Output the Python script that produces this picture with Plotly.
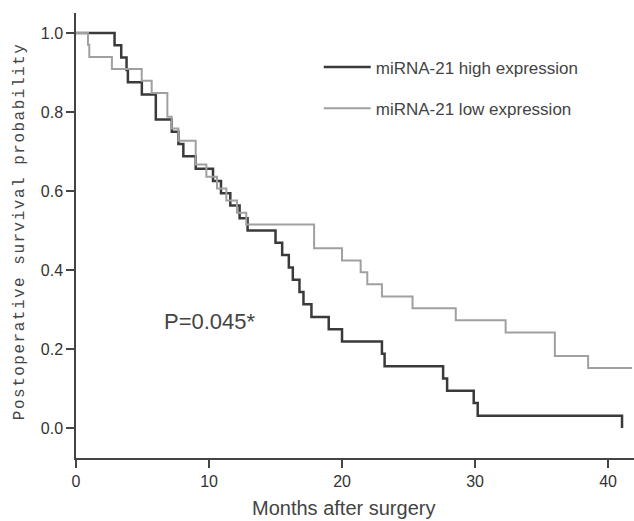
import plotly.graph_objects as go

# Kaplan-Meier step data
high_t = [0, 2.9, 3.4, 3.8, 3.9, 4.95, 6.0, 7.2, 7.7, 8.07, 9.0, 10.3, 10.9, 11.6, 12.3, 12.9,
          15.0, 15.5, 16.0, 16.3, 16.8, 17.1, 17.7, 19.0, 20.0, 23.0, 23.2, 27.6, 27.9, 29.9, 30.2, 41.05]
high_s = [1.0, .969, .938, .906, .875, .844, .781, .75, .719, .688, .656, .625, .594, .563, .531, .5,
          .469, .438, .406, .375, .344, .313, .281, .25, .219, .188, .156, .125, .094, .063, .031, 0.0]

low_t = [0, 0.9, 1.0, 2.7, 4.94, 5.69, 6.87, 7.2, 7.7, 9.0, 9.8, 10.6, 11.3, 12.1, 12.8,
         17.9, 20.0, 21.4, 21.9, 23.0, 25.3, 28.55, 32.3, 36.0, 38.5, 41.8]
low_s = [1.0, .97, .939, .909, .879, .848, .788, .758, .727, .667, .636, .606, .576, .545, .515,
         .455, .424, .394, .364, .333, .303, .273, .242, .182, .152, .152]

x_ticks = [0, 10, 20, 30, 40]
y_ticks = [0.0, 0.2, 0.4, 0.6, 0.8, 1.0]

FONT = "Liberation Sans, Arial, sans-serif"

fig = go.Figure()
fig.add_trace(go.Scatter(x=high_t, y=high_s, mode="lines", line_shape="hv",
                         line=dict(color="#3a3a3a", width=2.5),
                         name="miRNA-21 high expression", legendgroup="a"))
fig.add_trace(go.Scatter(x=low_t, y=low_s, mode="lines", line_shape="hv",
                         line=dict(color="#a0a0a0", width=2),
                         name="miRNA-21 low expression", legendgroup="b"))

fig.add_annotation(x=10.1, y=0.27, xref="x", yref="y", text="P=0.045*", showarrow=False,
                   font=dict(family=FONT, size=22, color="#444"))

fig.add_annotation(x=-0.1, y=0.508, xref="paper", yref="paper",
                   text='<span style="letter-spacing:1.5px">Postoperative survival probability</span>',
                   textangle=-90, showarrow=False, xanchor="center", yanchor="middle",
                   font=dict(family="Liberation Mono, DejaVu Sans Mono, monospace", size=16, color="#444"))

fig.add_annotation(x=0.48, y=-0.112, xref="paper", yref="paper", text="Months after surgery",
                   showarrow=False, xanchor="center", yanchor="middle",
                   font=dict(family=FONT, size=20, color="#444"))

fig.update_layout(
    width=634, height=521,
    margin=dict(l=76, r=0, t=13, b=63, autoexpand=False),
    paper_bgcolor="white", plot_bgcolor="white",
    font=dict(family=FONT, size=16, color="#333"),
    showlegend=True,
    legend=dict(x=0.435, y=0.918, xanchor="left", yanchor="top", bgcolor="rgba(0,0,0,0)",
                font=dict(family=FONT, size=17, color="#444"),
                tracegroupgap=16, itemwidth=47),
    xaxis=dict(range=[0, 41.95], tickvals=x_ticks, ticks="outside", ticklen=8, tickwidth=1.5,
               tickcolor="#444", showline=True, linecolor="#444", linewidth=1.5,
               showgrid=False, zeroline=False, automargin=False),
    yaxis=dict(range=[-0.076, 1.0506], tickvals=y_ticks, tickformat=".1f", ticks="outside",
               ticklen=8, tickwidth=1.5, tickcolor="#444", showline=True, linecolor="#444",
               linewidth=1.5, showgrid=False, zeroline=False, automargin=False),
)

fig.write_html("out.html", config={"displayModeBar": False},
               post_script="document.body.style.margin='0';document.body.style.overflow='hidden';")
